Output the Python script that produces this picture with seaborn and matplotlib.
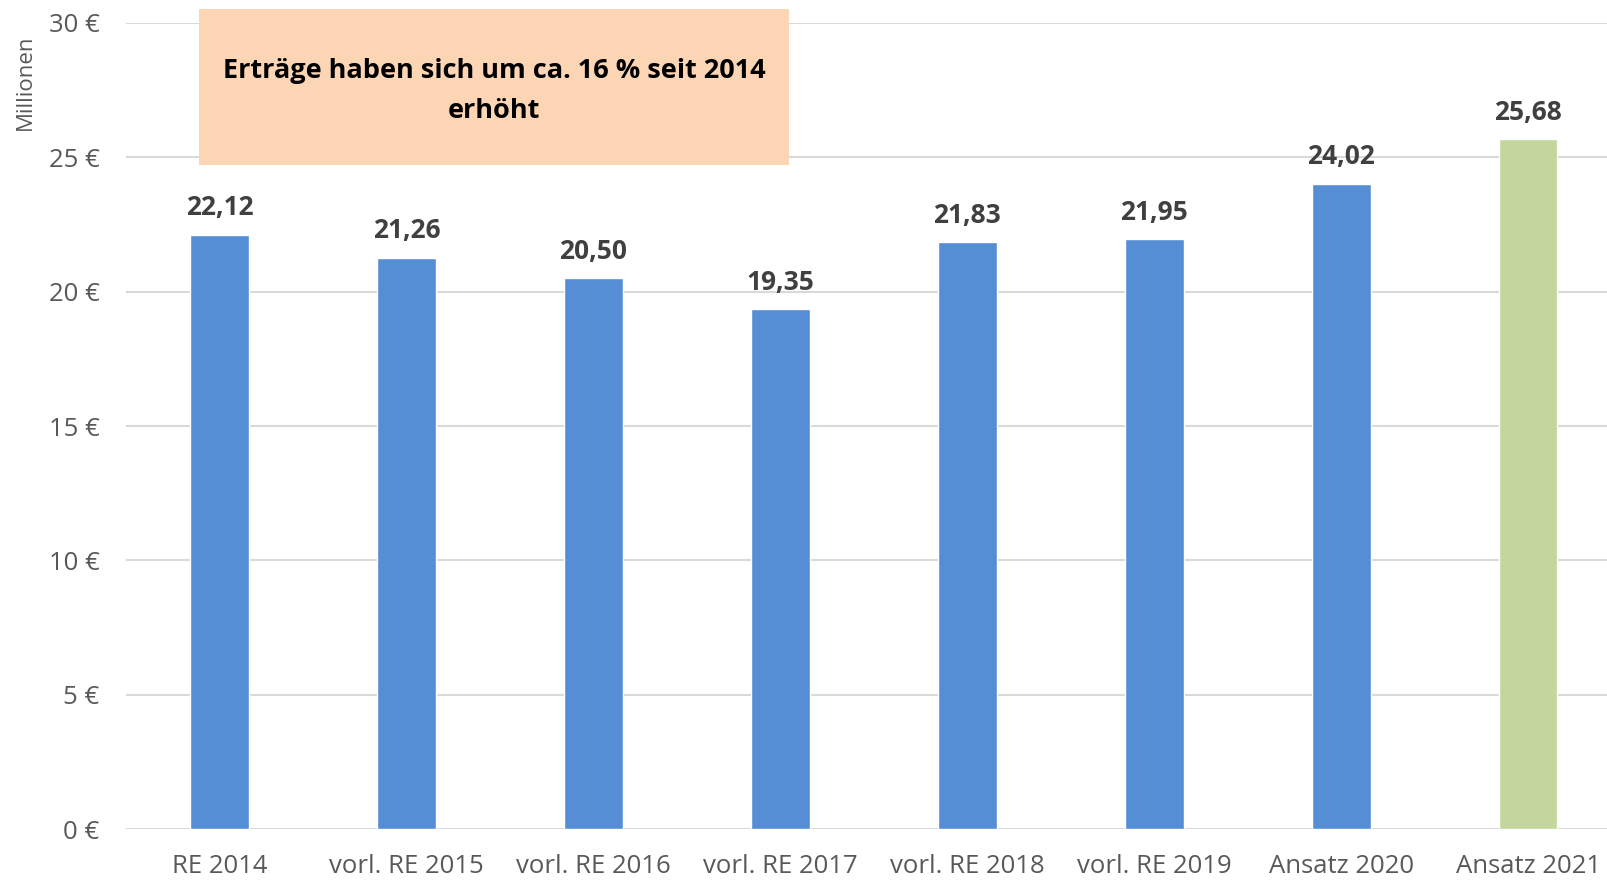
import numpy as np
import pandas as pd
import matplotlib
matplotlib.use("Agg")
import matplotlib.pyplot as plt
import seaborn as sns

categories = ["RE 2014", "vorl. RE 2015", "vorl. RE 2016", "vorl. RE 2017",
              "vorl. RE 2018", "vorl. RE 2019", "Ansatz 2020", "Ansatz 2021"]
values = [22.12, 21.26, 20.50, 19.35, 21.83, 21.95, 24.02, 25.68]
bar_colors = ["#558ED5"] * 7 + ["#C3D69B"]
y_ticks = [0, 5, 10, 15, 20, 25, 30]

sns.set_style("white")
plt.rcParams["font.family"] = ["Open Sans", "DejaVu Sans"]

df = pd.DataFrame({"cat": categories, "val": values})

fig = plt.figure(figsize=(16.08, 8.82), dpi=100)
ax = fig.add_axes([0.0784, 0.060, 0.930, 0.914])

sns.barplot(data=df, x="cat", y="val", hue="cat", palette=bar_colors,
            width=0.315, legend=False, ax=ax, saturation=1)

ax.set_ylim(0, 30)
ax.set_xlim(-0.5, 7.5)
ax.set_yticks(y_ticks)
ax.set_yticklabels([f"{t} €" for t in y_ticks])
ax.yaxis.grid(True, color="#D9D9D9", linewidth=1.5)
ax.set_axisbelow(True)
for s in ax.spines.values():
    s.set_visible(False)
ax.tick_params(axis="both", length=0, labelsize=18.5, colors="#595959")
ax.tick_params(axis="y", pad=19)
ax.tick_params(axis="x", pad=18)
ax.set_xlabel("")
ax.set_ylabel("")

for i, v in enumerate(values):
    ax.text(i, v + 0.5, f"{v:.2f}".replace(".", ","), ha="center", va="bottom",
            fontsize=19, fontweight="bold", color="#404040")

fig.text(0.0155, 0.907, "Millionen", rotation=90, ha="center", va="center",
         fontsize=16, color="#595959")

# annotation box
fig.patches.append(plt.Rectangle((199 / 1608, 1 - 165 / 882), 590 / 1608, 156 / 882,
                                 transform=fig.transFigure, facecolor="#FCD5B5",
                                 edgecolor="none", zorder=5))
fig.text(494 / 1608, 1 - 91 / 882, "Erträge haben sich um ca. 16 % seit 2014\nerhöht",
         ha="center", va="center", fontsize=19.5, fontweight="bold", color="black",
         linespacing=1.7, zorder=6)

fig.savefig("out.png", dpi=100)
